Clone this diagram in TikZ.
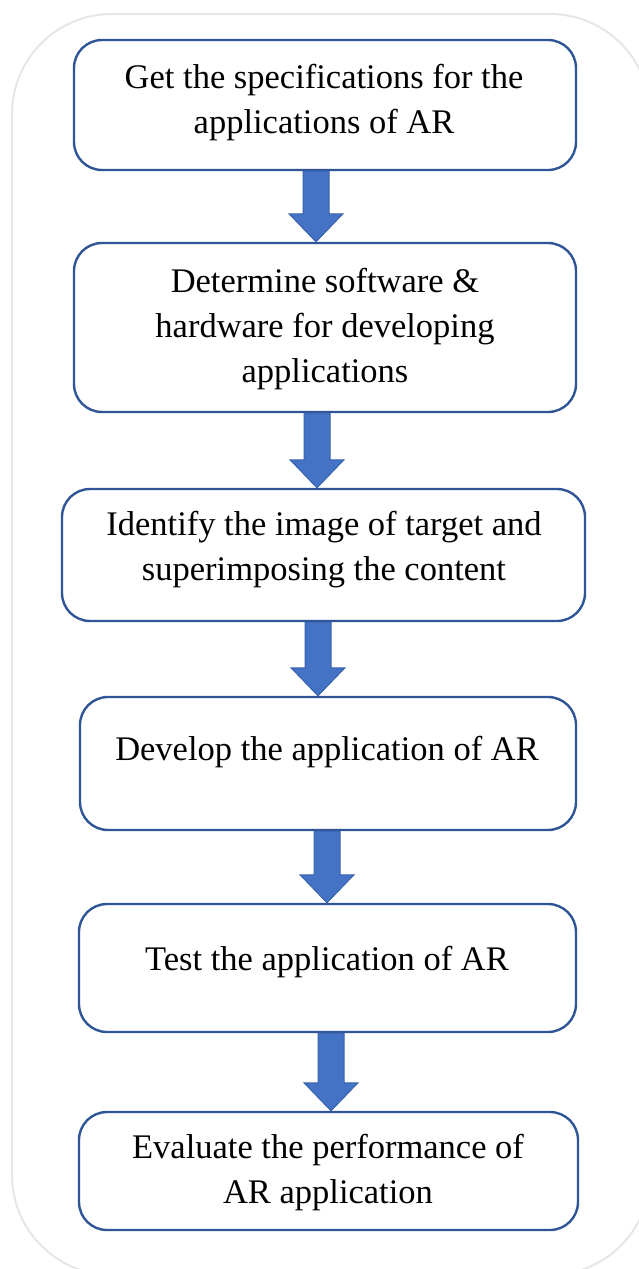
\documentclass[tikz,border=0pt]{standalone}
\usepackage{fontspec}
\setmainfont{Liberation Serif}
\usetikzlibrary{calc}
\definecolor{boxblue}{HTML}{2F5597}
\definecolor{arrowfill}{HTML}{4472C4}
\definecolor{arrowline}{HTML}{3A63AD}
\definecolor{outergray}{HTML}{E6E6E6}
\begin{document}
\begin{tikzpicture}[x=1pt,y=-1pt,
  stepbox/.style={draw=boxblue, line width=2.4pt, rounded corners=28pt, fill=white, inner sep=0pt},
  steptext/.style={align=center, font=\fontsize{34.5}{45}\selectfont, inner sep=0pt},
  flowarrow/.style={fill=arrowfill, draw=arrowline, line width=1pt, line join=miter}
]
\useasboundingbox (0,0) rectangle (638,1269);
\draw[outergray, line width=2pt, rounded corners=100pt] (12,14) rectangle (650,1275);

\node[stepbox, minimum width=502pt, minimum height=130pt] (b1) at (325,105) {};
\node[stepbox, minimum width=502pt, minimum height=169pt] (b2) at (325,327.5) {};
\node[stepbox, minimum width=523pt, minimum height=132pt] (b3) at (323.5,555) {};
\node[stepbox, minimum width=496pt, minimum height=133pt] (b4) at (328,763.5) {};
\node[stepbox, minimum width=497pt, minimum height=128pt] (b5) at (327.5,968) {};
\node[stepbox, minimum width=499pt, minimum height=118pt] (b6) at (328.5,1171) {};

\node[steptext] (t1) at (324,103) {Get the specifications for the\\applications of AR};
\node[steptext] (t2) at (325,329) {Determine software \&\\hardware for developing\\applications};
\node[steptext] (t3) at (324,550) {Identify the image of target and\\superimposing the content};
\node[steptext] (t4) at (327,752) {Develop the application of AR};
\node[steptext] (t5) at (327,962) {Test the application of AR};
\node[steptext] (t6) at (328,1173) {Evaluate the performance of\\AR application};

\newcommand{\downarrowshape}[3]{%
  \coordinate (ax) at (#3,0);
  \filldraw[flowarrow]
    ($(ax |- #1.south)+(-13,0)$) -- ($(ax |- #1.south)+(13,0)$)
    -- ($(ax |- #2.north)+(13,-28)$) -- ($(ax |- #2.north)+(27,-28)$)
    -- (ax |- #2.north)
    -- ($(ax |- #2.north)+(-27,-28)$) -- ($(ax |- #2.north)+(-13,-28)$) -- cycle;}
\downarrowshape{b1}{b2}{316}
\downarrowshape{b2}{b3}{317}
\downarrowshape{b3}{b4}{318}
\downarrowshape{b4}{b5}{327}
\downarrowshape{b5}{b6}{331}
\end{tikzpicture}
\end{document}
